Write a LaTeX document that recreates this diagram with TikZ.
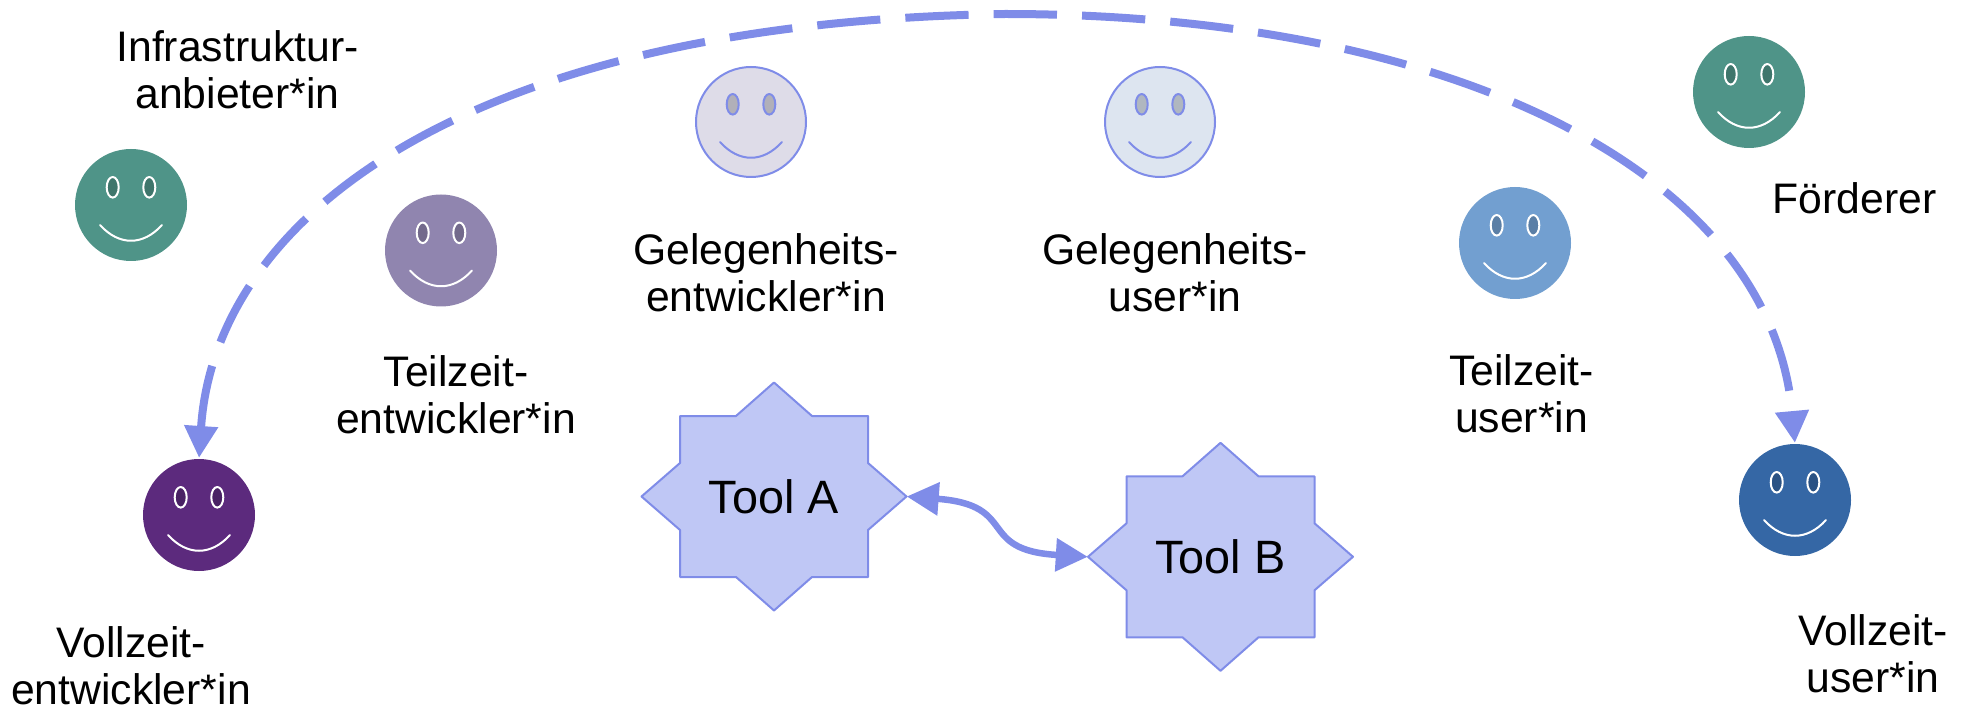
\documentclass[tikz,border=0pt]{standalone}
\usepackage{fontspec}
\setmainfont{Liberation Sans}
\usetikzlibrary{arrows.meta}
\definecolor{linkblue}{HTML}{7F8CE8}
\definecolor{toolfill}{HTML}{BFC7F5}
\definecolor{greenface}{HTML}{4F9488}
\definecolor{lilacface}{HTML}{9085AF}
\definecolor{purpleface}{HTML}{5C2A7D}
\definecolor{paleface}{HTML}{DEDCE8}
\definecolor{skyface}{HTML}{DDE5F0}
\definecolor{lightface}{HTML}{729FD0}
\definecolor{blueface}{HTML}{3567A5}
\tikzset{l/.style={font=\fontsize{42.7}{47}\selectfont,align=center,inner sep=0pt}}
\tikzset{t/.style={font=\fontsize{46.8}{50}\selectfont,inner sep=0pt,minimum width=265,minimum height=228}}
\tikzset{>={Triangle[length=32pt,width=32pt]}}
% name, position, fill, outline, eyes and smile
\newcommand{\smiley}[5]{
  \node[circle,minimum size=110,inner sep=0pt,fill=#3,draw=#4,line width=2] (#1) at (#2) {};
  \begin{scope}[shift={(#1)},line width=2,draw=#5]
    \filldraw[fill=black,fill opacity=0.2] (-18.3,-17.7) ellipse [x radius=6,y radius=10.3];
    \filldraw[fill=black,fill opacity=0.2] (18.3,-17.7) ellipse [x radius=6,y radius=10.3];
    \draw[line cap=round] (-31,20) .. controls (-12,41) and (12,41) .. (31,20);
  \end{scope}
}
\newcommand{\toolstar}[3]{
  \begin{scope}[shift={(#2)}]
    \filldraw[fill=toolfill,draw=linkblue,line width=2,line join=round](-132.5,0)--(-94,-33.5)--(-94,-80.5)--(-38,-80.5)--(0,-114)--(38,-80.5)--(94,-80.5)--(94,-33.5)--(132.5,0)--(94,33.5)--(94,80.5)--(38,80.5)--(0,114)--(-38,80.5)--(-94,80.5)--(-94,33.5)--cycle;
  \end{scope}
  \node[t] (#1) at (#2) {#3};
}
\begin{document}
\begin{tikzpicture}[x=1pt,y=-1pt,line join=round]
  \useasboundingbox (0,0) rectangle (1970,711);
  \smiley{infra}{131,205}{greenface}{greenface}{white}
  \smiley{foerderer}{1749,92}{greenface}{greenface}{white}
  \smiley{teilentw}{441,250.5}{lilacface}{lilacface}{white}
  \smiley{vollentw}{199,515}{purpleface}{purpleface}{white}
  \smiley{gelentw}{751,122}{paleface}{linkblue}{linkblue}
  \smiley{geluser}{1160,122}{skyface}{linkblue}{linkblue}
  \smiley{teiluser}{1515,243}{lightface}{lightface}{white}
  \smiley{volluser}{1795,500}{blueface}{blueface}{white}
  \node[l] (infralabel) at (237.5,70) {Infrastruktur-\\anbieter*in};
  \node[l] (teilentwlabel) at (456,394.5) {Teilzeit-\\entwickler*in};
  \node[l] (gelentwlabel) at (766,273) {Gelegenheits-\\entwickler*in};
  \node[l] (geluserlabel) at (1175,273) {Gelegenheits-\\user*in};
  \node[l] (teiluserlabel) at (1521.5,394) {Teilzeit-\\user*in};
  \node[l] (foerdererlabel) at (1854.5,198) {Förderer};
  \node[l] (vollentwlabel) at (131,666) {Vollzeit-\\entwickler*in};
  \node[l] (volluserlabel) at (1873,653.5) {Vollzeit-\\user*in};
  \toolstar{toola}{774,496.5}{Tool A}
  \toolstar{toolb}{1220.5,556.8}{Tool B}
  \draw[<->,linkblue,line width=6.5] (toola.east) .. controls (1020,505) and (975,550) .. (toolb.west);
  \coordinate (archome) at (1005,14);
  \draw[<->,linkblue,line width=8,dash pattern=on 63.3pt off 25.1pt,shorten <=1pt,shorten >=1pt] (vollentw.north) .. controls (215,215) and (470,22) .. (archome) .. controls (1450,14) and (1770,170) .. (volluser.north);
\end{tikzpicture}
\end{document}
